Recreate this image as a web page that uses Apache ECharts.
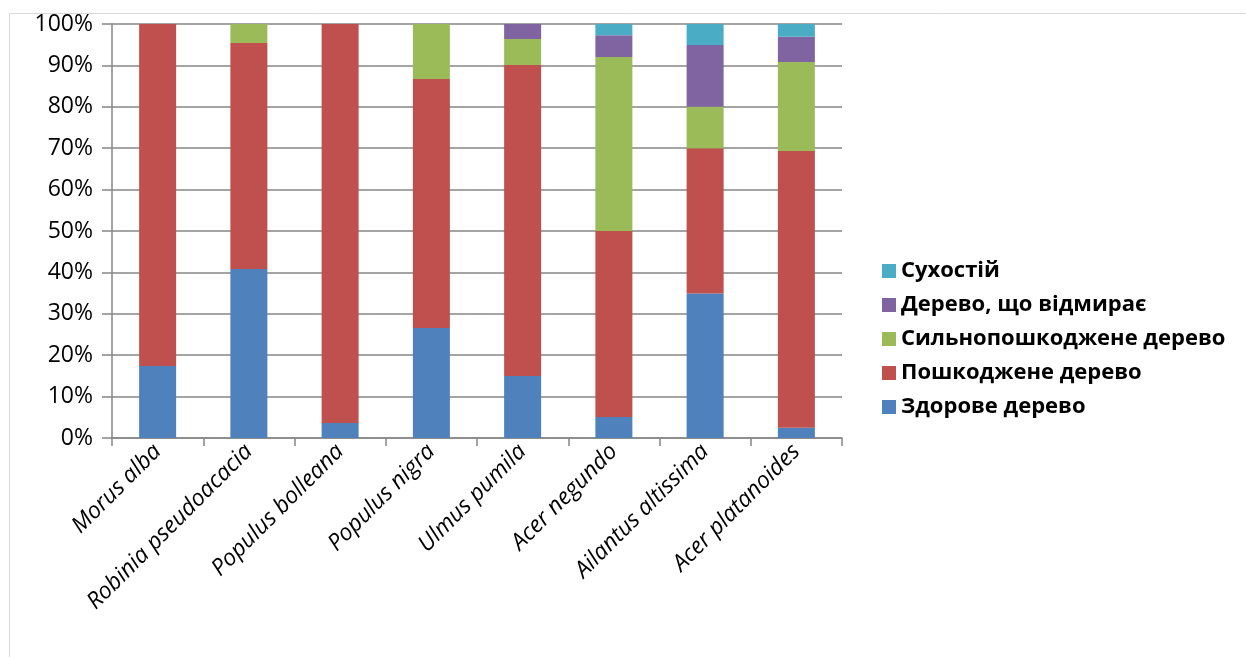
<!DOCTYPE html>
<html>
<head>
<meta charset="utf-8">
<script src="https://cdn.jsdelivr.net/npm/echarts@6/dist/echarts.min.js"></script>
<style>
html,body{margin:0;padding:0;background:#fff;}
#chart{width:1246px;height:657px;}
</style>
</head>
<body>
<div id="chart"></div>
<script>
const categories = ['Morus alba', 'Robinia pseudoacacia', 'Populus bolleana', 'Populus nigra', 'Ulmus pumila', 'Acer negundo', 'Ailantus altissima', 'Acer platanoides'];
const healthy = [17.4, 40.8, 3.6, 26.6, 15.0, 5.1, 34.9, 2.5];
const damaged = [82.6, 54.6, 96.4, 60.1, 75.1, 44.9, 35.1, 66.8];
const heavilyDamaged = [0, 4.6, 0, 13.3, 6.3, 42.0, 10.0, 21.5];
const dying = [0, 0, 0, 0, 3.6, 5.3, 14.9, 6.1];
const deadwood = [0, 0, 0, 0, 0, 2.7, 5.1, 3.1];
const seriesNames = ['Здорове дерево', 'Пошкоджене дерево', 'Сильнопошкоджене дерево', 'Дерево, що відмирає', 'Сухостій'];
const yTicks = [0, 10, 20, 30, 40, 50, 60, 70, 80, 90, 100];

const colors = ['#4F81BD', '#C0504D', '#9BBB59', '#8064A2', '#4BACC6'];
const values = [healthy, damaged, heavilyDamaged, dying, deadwood];
const font = 'Open Sans';

const chart = echarts.init(document.getElementById('chart'), null, {renderer: 'canvas'});
chart.setOption({
  animation: false,
  color: colors,
  graphic: [{
    type: 'rect', left: 7, top: 11, silent: true,
    shape: {width: 1300, height: 700},
    style: {fill: 'none', stroke: '#d9d9d9', lineWidth: 1}
  }],
  grid: {left: 112, right: 1246 - 842, top: 24, bottom: 657 - 438, containLabel: false},
  legend: {
    orient: 'vertical', left: 877, top: 255,
    itemWidth: 14, itemHeight: 14, itemGap: 12,
    icon: 'rect',
    data: seriesNames.slice().reverse(),
    textStyle: {fontFamily: font, fontWeight: 'bold', fontSize: 22, color: '#000'}
  },
  xAxis: {
    type: 'category', data: categories,
    axisLine: {lineStyle: {color: '#868686', width: 1.5}},
    axisTick: {show: true, length: 8, lineStyle: {color: '#868686', width: 1.5}},
    axisLabel: {rotate: 45, interval: 0, margin: 10, fontFamily: font, fontStyle: 'italic', fontSize: 23, color: '#000'}
  },
  yAxis: {
    type: 'value', min: 0, max: 100, interval: 10,
    axisLine: {show: true, lineStyle: {color: '#868686', width: 1.5}},
    axisTick: {show: true, length: 10, lineStyle: {color: '#868686', width: 1.5}},
    splitLine: {lineStyle: {color: '#868686', width: 1.5}},
    axisLabel: {margin: 19, fontFamily: font, fontSize: 23, color: '#000',
      formatter: v => yTicks.includes(v) ? v + '%' : ''}
  },
  series: seriesNames.map((n, i) => ({
    name: n, type: 'bar', stack: 'total', barWidth: 37,
    data: values[i]
  }))
});
</script>
</body>
</html>
